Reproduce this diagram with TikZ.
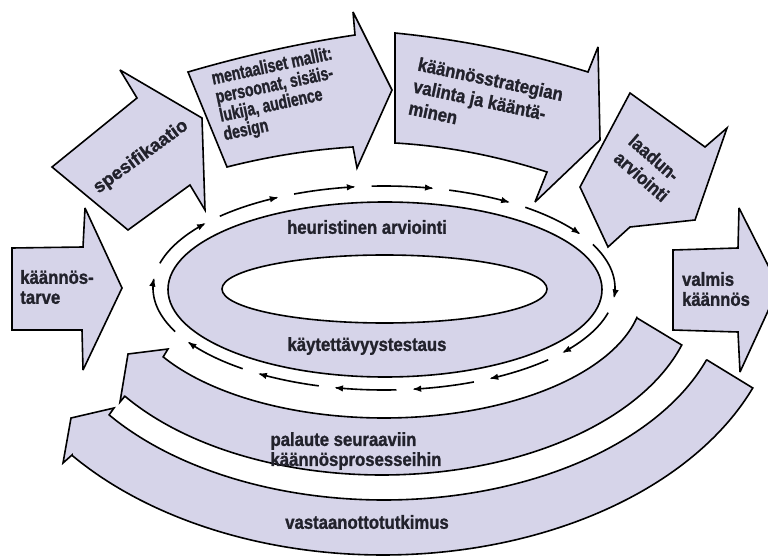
\documentclass[tikz,border=0pt]{standalone}
\usepackage{fontspec}
\setmainfont{Liberation Sans}
\newfontfamily\fN{Liberation Sans}[FakeStretch=0.88,FakeBold=1.2]
\newfontfamily\fM{Liberation Sans}[FakeStretch=0.74,FakeBold=1.2]
\newfontfamily\fS{Liberation Sans}[FakeBold=1.2]
\usetikzlibrary{arrows.meta}
\definecolor{fillc}{RGB}{214,212,233}
\definecolor{txt}{RGB}{34,34,44}
\begin{document}
\begin{tikzpicture}[x=1pt,y=-1pt,
  blk/.style={fill=fillc,draw=black,line width=1.6pt,line join=miter,miter limit=4},
  lbl/.style={text=txt,inner sep=0pt,align=left,font=\fN\bfseries\fontsize{19}{20}\selectfont},
  lblwide/.style={text=txt,inner sep=0pt,align=left,font=\fS\bfseries\fontsize{18.5}{20}\selectfont},
  lblnarrow/.style={text=txt,inner sep=0pt,align=left,font=\fM\bfseries\fontsize{19}{19}\selectfont},
  lblstrat/.style={text=txt,inner sep=0pt,align=left,font=\fN\bfseries\fontsize{19}{22.4}\selectfont},
  cyc/.style={line width=1.6pt,-{Latex[length=9pt,width=6.5pt]}}]
\useasboundingbox (0,0) rectangle (768,556);
\fill[white] (0,0) rectangle (768,556);
\begin{scope}
\clip (0,0) rectangle (768,556);
% top arrows
\filldraw[blk] (12,248) -- (83,247) -- (85,208) -- (122,288) -- (83,370) -- (82,330) -- (12,330) -- cycle;
\filldraw[blk] (52,167) -- (137,98) -- (120,70) -- (202,118) -- (205,210) -- (190,185) -- (128,230) -- cycle;
\filldraw[blk] (188,72) .. controls (243.7,55.7) and (299.3,43.3) .. (355,35) -- (353,12) -- (392,90) -- (357,168) -- (353,147) .. controls (311,149.7) and (269,156.3) .. (227,167) -- cycle;
\filldraw[blk] (395,33) .. controls (460,39.4) and (524,52.4) .. (588,72) -- (598,47) -- (600,140) -- (535,202) -- (547,172) .. controls (496,155.6) and (446,146) .. (395,143) -- cycle;
\filldraw[blk] (630,93) -- (705,147) -- (727,128) -- (695,220) -- (630,227) -- (608,247) -- (580,187) -- cycle;
\filldraw[blk] (673,250) -- (738,248) -- (739,208) -- (779,287) -- (740,372) -- (738,332) -- (673,330) -- cycle;
% lower bands
\filldraw[blk] (637,318) -- plot[domain=12.5:148.5,samples=60,smooth] ({384+259*cos(\x)},{290+128*sin(\x)}) -- (168,349) -- (128,354) -- (120,402) -- (125,396) -- plot[domain=145:17.3,samples=60,smooth] ({382+314*cos(\x)},{290+185*sin(\x)}) -- cycle;
\filldraw[blk] (707,360) -- plot[domain=19.5:143.5,samples=60,smooth] ({384+342*cos(\x)},{290+210*sin(\x)}) -- (114,408) -- (71,418) -- (63,463) -- (72,455) -- plot[domain=141.4:21.7,samples=60,smooth] ({383+398*cos(\x)},{290+265*sin(\x)}) -- cycle;
% ring
\filldraw[blk,even odd rule] (385,289.5) ellipse [x radius=217,y radius=87.5] (384.5,289) ellipse [x radius=162.5,y radius=34];
% cycle arrows
\foreach \a/\b in {14/39.6,44.7/62.9,67.1/83.0,86.9/102.5,106.4/123.1,127.7/148.3,154.7/185.9,194/219.6,224.7/242.9,247.1/263,266.9/282.5,286.4/303.1,307.7/328.3,334.7/365.9}
  \draw[cyc] plot[domain=\a:\b,samples=24,smooth] ({384+231*cos(\x)},{288+102*sin(\x)});
\end{scope}
% labels
\node[lbl] (need) at (57,287) {käännös-\\tarve};
\node[lblwide,rotate=36] (spec) at (141,157) {spesifikaatio};
\node[lblnarrow,rotate=12] (mental) at (278,95) {mentaaliset mallit:\\persoonat, sisäis-\\lukija, audience\\design};
\node[lblstrat,rotate=-12] (strat) at (486,101) {käännösstrategian\\valinta ja kääntä-\\minen};
\node[lblstrat,rotate=-41] (qual) at (649,168) {laadun-\\arviointi};
\node[lbl] (done) at (716,289) {valmis\\käännös};
\node[lbl] (heur) at (367,227) {heuristinen arviointi};
\node[lbl] (usab) at (367,346) {käytettävyystestaus};
\node[lbl] (feed) at (356,451) {palaute seuraaviin\\käännösprosesseihin};
\node[lbl] (recep) at (367,522) {vastaanottotutkimus};
\end{tikzpicture}
\end{document}
